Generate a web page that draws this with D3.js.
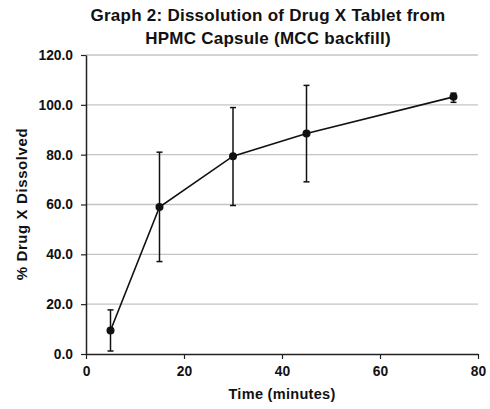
<!DOCTYPE html>
<html>
<head>
<meta charset="utf-8">
<script src="https://cdn.jsdelivr.net/npm/d3@7/dist/d3.min.js"></script>
<style>
  html, body { margin: 0; padding: 0; background: #fff; }
  svg { display: block; font-family: "Liberation Sans", Arial, sans-serif; }
</style>
</head>
<body>
<svg id="chart" width="490" height="409"></svg>
<script>
// Dissolution profile: time points, mean % dissolved and error bar limits
const times = [5, 15, 30, 45, 75];
const meanDissolved = [9.4, 59.0, 79.4, 88.5, 103.2];
const errorUpper = [17.7, 81.0, 98.9, 107.8, 104.7];
const errorLower = [1.2, 37.1, 59.6, 69.1, 101.0];
const xTicks = [0, 20, 40, 60, 80];
const yTicks = [0, 20, 40, 60, 80, 100, 120];
const titleLines = ["Graph 2: Dissolution of Drug X Tablet from", "HPMC Capsule (MCC backfill)"];

const points = times.map((t, i) => ({
  t, mean: meanDissolved[i], hi: errorUpper[i], lo: errorLower[i]
}));

const svg = d3.select("#chart");
const plot = { left: 86, right: 478, top: 55, bottom: 354 };

const x = d3.scaleLinear().domain([0, 80]).range([plot.left, plot.right]);
const y = d3.scaleLinear().domain([0, 120]).range([plot.bottom, plot.top]);

// Horizontal gridlines
svg.append("g")
  .selectAll("line")
  .data(yTicks.filter(v => v > 0))
  .join("line")
  .attr("x1", plot.left).attr("x2", plot.right)
  .attr("y1", d => y(d)).attr("y2", d => y(d))
  .attr("stroke", "#c4c4c4").attr("stroke-width", 1.3);

// Axes
const xAxis = svg.append("g")
  .attr("transform", `translate(0,${plot.bottom})`)
  .call(d3.axisBottom(x).tickValues(xTicks).tickSize(5).tickSizeOuter(0).tickPadding(7));
const yAxis = svg.append("g")
  .attr("transform", `translate(${plot.left},0)`)
  .call(d3.axisLeft(y).tickValues(yTicks).tickFormat(d3.format(".1f")).tickSize(5).tickSizeOuter(0).tickPadding(8));

[xAxis, yAxis].forEach(g => {
  g.select(".domain").attr("stroke", "#222").attr("stroke-width", 1.5);
  g.selectAll(".tick line").attr("stroke", "#222").attr("stroke-width", 1.2);
  g.selectAll(".tick text")
    .attr("fill", "#111")
    .style("font-size", "13.8px")
    .style("font-weight", "bold")
    .style("font-family", "'Liberation Sans', Arial, sans-serif");
});

// Error bars
const eb = svg.append("g").attr("stroke", "#111").attr("stroke-width", 1.5);
eb.selectAll("line.stem")
  .data(points).join("line").attr("class", "stem")
  .attr("x1", d => x(d.t)).attr("x2", d => x(d.t))
  .attr("y1", d => y(d.hi)).attr("y2", d => y(d.lo));
eb.selectAll("line.cap-hi")
  .data(points).join("line").attr("class", "cap-hi")
  .attr("x1", d => x(d.t) - 3).attr("x2", d => x(d.t) + 3)
  .attr("y1", d => y(d.hi)).attr("y2", d => y(d.hi));
eb.selectAll("line.cap-lo")
  .data(points).join("line").attr("class", "cap-lo")
  .attr("x1", d => x(d.t) - 3).attr("x2", d => x(d.t) + 3)
  .attr("y1", d => y(d.lo)).attr("y2", d => y(d.lo));

// Mean profile line
svg.append("path")
  .datum(points)
  .attr("fill", "none")
  .attr("stroke", "#111")
  .attr("stroke-width", 1.6)
  .attr("d", d3.line().x(d => x(d.t)).y(d => y(d.mean)));

// Markers
svg.append("g")
  .selectAll("circle")
  .data(points).join("circle")
  .attr("cx", d => x(d.t)).attr("cy", d => y(d.mean))
  .attr("r", 4).attr("fill", "#111");

// Title
svg.append("text")
  .attr("text-anchor", "middle")
  .style("font-size", "17px").style("font-weight", "bold")
  .style("letter-spacing", "0.25px").attr("fill", "#111")
  .selectAll("tspan").data(titleLines).join("tspan")
  .attr("x", 268).attr("y", (d, i) => 21 + i * 22.5)
  .text(d => d);

// Axis titles
svg.append("text")
  .attr("x", 282).attr("y", 399)
  .attr("text-anchor", "middle")
  .style("font-size", "14.5px").style("font-weight", "bold")
  .style("letter-spacing", "0.3px").attr("fill", "#111")
  .text("Time (minutes)");

svg.append("text")
  .attr("transform", "translate(27,204) rotate(-90)")
  .attr("text-anchor", "middle")
  .style("font-size", "15px").style("font-weight", "bold")
  .style("letter-spacing", "0.6px").attr("fill", "#111")
  .text("% Drug X Dissolved");
</script>
</body>
</html>
